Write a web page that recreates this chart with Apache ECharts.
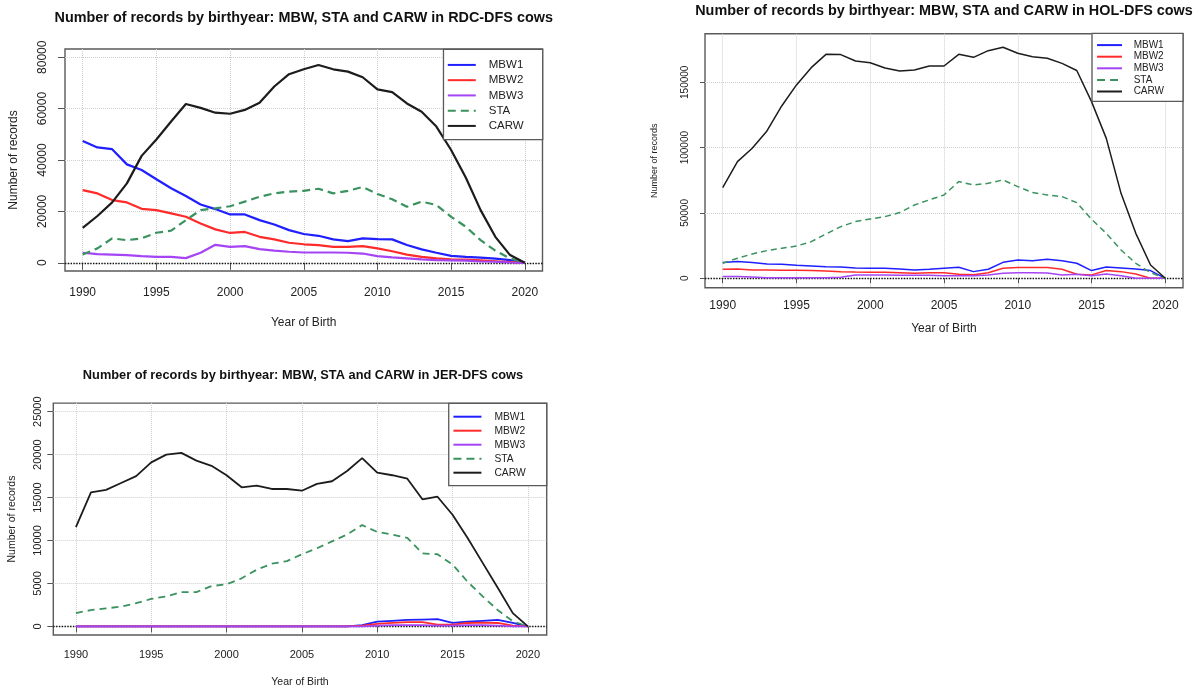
<!DOCTYPE html>
<html><head><meta charset="utf-8">
<script src="https://cdn.jsdelivr.net/npm/echarts@6/dist/echarts.min.js"></script>
<style>html,body{margin:0;padding:0;background:#fff}#c{width:1200px;height:689px}</style>
</head><body><div id="c"></div>
<script>
// ---------- data ----------
const years = [1990,1991,1992,1993,1994,1995,1996,1997,1998,1999,2000,2001,2002,2003,2004,2005,2006,2007,2008,2009,2010,2011,2012,2013,2014,2015,2016,2017,2018,2019,2020];
const seriesNames = ['MBW1','MBW2','MBW3','STA','CARW'];
const xTickYears = [1990,1995,2000,2005,2010,2015,2020];
const rdcYTicks = [0,20000,40000,60000,80000];
const holYTicks = [0,50000,100000,150000];
const jerYTicks = [0,5000,10000,15000,20000,25000];
const titles = [
  'Number of records by birthyear: MBW, STA and CARW in RDC-DFS cows',
  'Number of records by birthyear: MBW, STA and CARW in HOL-DFS cows',
  'Number of records by birthyear: MBW, STA and CARW in JER-DFS cows'
];
const xTitle = 'Year of Birth';
const yTitle = 'Number of records';

// RDC-DFS
const rdcMBW1 = [47400,44900,44200,38300,36100,32500,29000,26000,22700,20900,18800,18800,16600,14900,12700,11200,10500,9100,8400,9500,9200,9100,6900,5200,3900,2700,2300,2000,1600,1000,0];
const rdcMBW2 = [28300,27000,24400,23500,21000,20500,19200,17900,15300,13000,11600,12000,10100,9100,7800,7200,6900,6200,6200,6500,5600,4500,3200,2300,1700,1300,1200,900,600,300,0];
const rdcMBW3 = [3900,3400,3200,3000,2600,2300,2300,1800,3900,7000,6200,6500,5300,4700,4300,4000,4000,4000,3900,3600,2600,2100,1700,1300,1000,900,800,500,400,100,0];
const rdcSTA  = [3200,5600,9500,8800,9500,11700,12500,16600,20500,21200,22000,23800,25700,27000,27700,28000,28800,27000,28000,29500,26800,24700,21800,23800,22500,17900,14000,8800,4700,1700,0];
const rdcCARW = [13600,18200,23500,30900,41600,48000,55000,61800,60300,58400,58000,59500,62300,68600,73400,75300,77000,75300,74400,72200,67500,66400,62000,58800,53000,43900,33100,20500,10100,3000,0];

// HOL-DFS
const holMBW1 = [12000,12800,12000,11000,10700,9900,9400,8900,8700,7900,7700,7700,7100,6400,6900,7700,8400,5100,6900,12200,14000,13500,14500,13500,11500,5900,8700,7900,7100,5900,0];
const holMBW2 = [6900,7100,6400,6400,6100,6100,5900,5600,5100,4800,4600,4600,4300,3800,4300,4300,3100,2800,4300,7700,8200,8200,8200,6900,3100,2600,5900,5100,3300,0,0];
const holMBW3 = [1300,1300,1000,500,500,500,500,500,800,2600,2600,2600,2300,2300,2300,2000,2000,2000,2600,3800,4300,4300,4100,2600,3100,2000,3300,2000,0,0,0];
const holSTA  = [11500,15300,18600,21200,23000,24700,28000,33900,39500,43400,45400,47200,50300,56100,60000,63800,74000,71400,72700,75300,70200,65600,63800,62500,57900,45200,34400,21700,11500,4300,0];
const holCARW = [69400,89300,99500,112800,131900,148000,161200,171400,171200,166300,165000,161000,158700,159400,162500,162500,171400,169100,174200,176800,172200,169600,168400,164500,159000,135200,107100,65000,34400,10200,0];

// JER-DFS
const jerMBW1 = [0,0,0,0,0,0,0,0,0,0,0,0,0,0,0,0,0,0,0,150,550,650,750,800,850,400,550,650,750,400,0];
const jerMBW2 = [0,0,0,0,0,0,0,0,0,0,0,0,0,0,0,0,0,0,0,80,300,400,500,500,200,200,400,450,400,100,0];
const jerMBW3 = [0,0,0,0,0,0,0,0,0,0,0,0,0,0,0,0,0,0,0,0,100,150,150,150,100,100,150,150,100,0,0];
const jerSTA  = [1550,1900,2100,2300,2700,3200,3500,4000,4000,4700,4900,5600,6600,7300,7600,8400,9100,9900,10700,11800,11000,10700,10300,8500,8400,7200,5200,3500,1900,600,0];
const jerCARW = [11550,15600,15900,16700,17500,19100,20000,20200,19300,18700,17600,16200,16400,16000,16000,15800,16600,16900,18100,19600,17900,17600,17200,14800,15100,13000,10300,7400,4500,1550,0];

// ---------- styling ----------
const colors = {MBW1:'#1f1fff', MBW2:'#ff2b2b', MBW3:'#a544f5', STA:'#3a935e', CARW:'#1c1c1c'};
const FONT = "'Liberation Sans', Arial, Helvetica, sans-serif";

const panels = [
  {data:[rdcMBW1,rdcMBW2,rdcMBW3,rdcSTA,rdcCARW], yTicks:rdcYTicks,
   grid:{left:65, top:49, width:477.5, height:222}, xMin:1988.8, xMax:2021.2, yMin:-3200, yMax:83200,
   lw:2.2, dash:[8,5], tickLen:7, xLabFs:12, xLabMargin:16, yLabFs:12, yLabMargin:16,
   xNameFs:12, xNameGap:46, yNameFs:12, yNameGap:45,
   title:{x:303.7, y:18.3, fs:14.4},
   legend:{right:657.3, top:49.3, iw:28, fs:11.5, lh:15.25, tp:8, pad:[8,19,6,3.3]}},
  {data:[holMBW1,holMBW2,holMBW3,holSTA,holCARW], yTicks:holYTicks,
   grid:{left:705, top:33.7, width:478, height:254}, xMin:1988.8, xMax:2021.2, yMin:-7200, yMax:187200,
   lw:1.5, dash:[6,4], tickLen:5, xLabFs:12, xLabMargin:12, yLabFs:10, yLabMargin:15,
   xNameFs:12, xNameGap:35, yNameFs:9, yNameGap:46,
   title:{x:944, y:10.7, fs:14.4},
   legend:{right:17, top:33.3, iw:25, fs:10, lh:11.6, tp:6.6, pad:[6,19,4,4]}},
  {data:[jerMBW1,jerMBW2,jerMBW3,jerSTA,jerCARW], yTicks:jerYTicks,
   grid:{left:53.3, top:403.1, width:493.4, height:232.2}, xMin:1988.5, xMax:2021.25, yMin:-1000, yMax:26000,
   lw:1.8, dash:[7,5], tickLen:6, xLabFs:11, xLabMargin:14, yLabFs:11, yLabMargin:10,
   xNameFs:10.5, xNameGap:42, yNameFs:10.5, yNameGap:35.5,
   title:{x:303, y:375, fs:12.8},
   legend:{right:653.3, top:403.3, iw:28, fs:10.3, lh:14, tp:8, pad:[6.4,21,6,3.7]}}
];

const option = {
  animation:false,
  backgroundColor:'#fff',
  textStyle:{fontFamily:FONT},
  title:[], grid:[], xAxis:[], yAxis:[], legend:[], series:[]
};

panels.forEach((p, gi) => {
  option.title.push({
    text: titles[gi], left: p.title.x, top: p.title.y, padding:0,
    textAlign:'center', textVerticalAlign:'middle',
    textStyle:{fontFamily:FONT, fontSize:p.title.fs, fontWeight:'bold', color:'#111'}
  });
  option.grid.push(Object.assign({show:true, borderColor:'#5a5a5a', borderWidth:1.4, backgroundColor:'transparent', containLabel:false}, p.grid));
  option.xAxis.push({
    gridIndex:gi, type:'value', min:p.xMin, max:p.xMax,
    axisLine:{show:false},
    axisTick:{show:true, length:p.tickLen, lineStyle:{color:'#555', width:1}, customValues:xTickYears},
    axisLabel:{show:true, customValues:xTickYears, fontSize:p.xLabFs, color:'#222', margin:p.xLabMargin, fontFamily:FONT,
      formatter: v => String(v)},
    splitLine:{show:true, lineStyle:{type:'dotted', color:'#cfcfcf', width:1}},
    name:xTitle, nameLocation:'middle', nameGap:p.xNameGap,
    nameTextStyle:{fontSize:p.xNameFs, color:'#222', fontFamily:FONT}
  });
  option.yAxis.push({
    gridIndex:gi, type:'value', min:p.yMin, max:p.yMax,
    axisLine:{show:false},
    axisTick:{show:true, length:p.tickLen, lineStyle:{color:'#555', width:1}, customValues:p.yTicks},
    axisLabel:{show:true, customValues:p.yTicks, rotate:90, fontSize:p.yLabFs, color:'#222', margin:p.yLabMargin, fontFamily:FONT,
      formatter: v => String(v)},
    splitLine:{show:true, lineStyle:{type:'dotted', color:'#cfcfcf', width:1}},
    name:yTitle, nameLocation:'middle', nameGap:p.yNameGap, nameRotate:90,
    nameTextStyle:{fontSize:p.yNameFs, color:'#222', fontFamily:FONT}
  });
  option.legend.push({
    orient:'vertical', right:p.legend.right, top:p.legend.top,
    data:seriesNames, itemWidth:p.legend.iw, itemHeight:8, itemGap:0,
    itemStyle:{opacity:0},
    textStyle:{fontSize:p.legend.fs, lineHeight:p.legend.lh, color:'#222', padding:[0,0,0,p.legend.tp], fontFamily:FONT},
    padding:p.legend.pad, borderColor:'#5a5a5a', borderWidth:1.3, backgroundColor:'#fff',
    selectedMode:false, z:10
  });
  seriesNames.forEach((nm, si) => {
    const s = {
      name:nm, type:'line', xAxisIndex:gi, yAxisIndex:gi,
      data: years.map((y, i) => [y, p.data[si][i]]),
      symbol:'none', showSymbol:false, smooth:false,
      lineStyle:{color:colors[nm], width:p.lw, type: nm === 'STA' ? p.dash : 'solid'},
      itemStyle:{color:colors[nm]},
      z: 3 + si
    };
    if (si === 0) {
      s.markLine = {
        silent:true, symbol:'none', label:{show:false}, z:1,
        lineStyle:{type:'dotted', color:'#111', width:1.4},
        data:[{yAxis:0}]
      };
    }
    option.series.push(s);
  });
});

const chart = echarts.init(document.getElementById('c'), null, {renderer:'canvas'});
chart.setOption(option);
</script>
</body></html>
